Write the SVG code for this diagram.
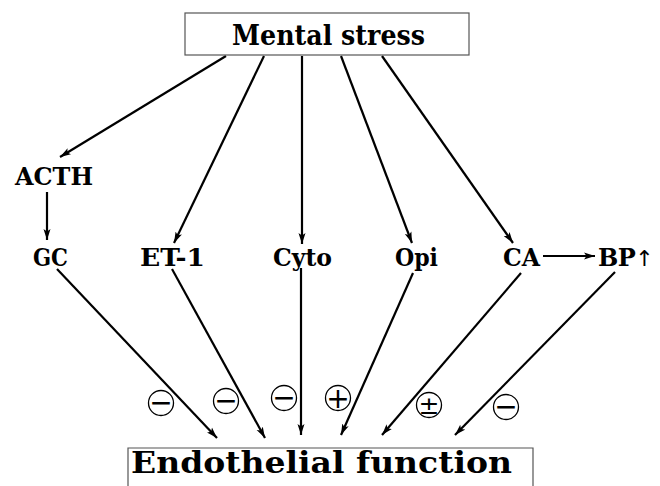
<svg xmlns="http://www.w3.org/2000/svg" width="660" height="486" viewBox="0 0 660 486">
<style>
.box{fill:#fff;stroke:#555;stroke-width:1.2}
.lbl{font-family:"DejaVu Serif","Liberation Serif",serif;font-weight:bold;fill:#000;text-anchor:middle}
.edge{stroke:#000;stroke-width:2.2;fill:none;marker-end:url(#ah)}
.sign circle{fill:none;stroke:#000;stroke-width:1.3}
.sign text{font-family:"DejaVu Sans",sans-serif;font-size:28px;text-anchor:middle;fill:#000}
</style>
<defs>
<marker id="ah" markerUnits="userSpaceOnUse" markerWidth="12" markerHeight="8" refX="11" refY="4" orient="auto">
<path d="M0,0.5 L11,4 L0,7.5 L2.5,4 z" fill="#000"/>
</marker>
</defs>
<rect width="660" height="486" fill="#fff"/>
<g id="connectors">
<line class="edge" x1="226" y1="56" x2="60" y2="157"/>
<line class="edge" x1="264" y1="56" x2="174" y2="243"/>
<line class="edge" x1="302" y1="56" x2="302" y2="244"/>
<line class="edge" x1="341" y1="56" x2="412" y2="243"/>
<line class="edge" x1="382" y1="56" x2="513" y2="243"/>
<line class="edge" x1="47" y1="192" x2="47" y2="240"/>
<line class="edge" x1="543" y1="256" x2="595" y2="256"/>
<line class="edge" x1="57" y1="269" x2="217" y2="438"/>
<line class="edge" x1="172" y1="269" x2="265" y2="438"/>
<line class="edge" x1="301" y1="268" x2="301" y2="435"/>
<line class="edge" x1="413" y1="273" x2="341" y2="435"/>
<line class="edge" x1="521" y1="273" x2="382" y2="435"/>
<line class="edge" x1="615" y1="272" x2="455" y2="435"/>
</g>
<g id="mental-stress">
<rect class="box" x="185" y="13" width="284" height="42"/>
<text class="lbl" x="328.5" y="45" font-size="27" textLength="193" lengthAdjust="spacingAndGlyphs">Mental stress</text>
</g>
<g id="endothelial-function">
<path class="box" d="M128,487 L128,448 L533,448 L533,487"/>
<text class="lbl" x="321.5" y="473" font-size="29" textLength="381" lengthAdjust="spacingAndGlyphs">Endothelial function</text>
</g>
<g id="acth"><text class="lbl" x="54" y="185" font-size="25" textLength="78" lengthAdjust="spacingAndGlyphs">ACTH</text></g>
<g id="gc"><text class="lbl" x="50.5" y="266" font-size="25" textLength="35" lengthAdjust="spacingAndGlyphs">GC</text></g>
<g id="et1"><text class="lbl" x="172.5" y="266" font-size="25" textLength="65" lengthAdjust="spacingAndGlyphs">ET-1</text></g>
<g id="cyto"><text class="lbl" x="302.5" y="266" font-size="25" textLength="59" lengthAdjust="spacingAndGlyphs">Cyto</text></g>
<g id="opi"><text class="lbl" x="416.5" y="266" font-size="25" textLength="43" lengthAdjust="spacingAndGlyphs">Opi</text></g>
<g id="ca"><text class="lbl" x="521.5" y="266" font-size="25" textLength="37" lengthAdjust="spacingAndGlyphs">CA</text></g>
<g id="bp"><text x="598" y="266" font-family="DejaVu Serif,serif" font-weight="bold" font-size="24" letter-spacing="-0.5" fill="#000">BP<tspan font-family="DejaVu Sans,sans-serif" font-weight="normal" font-size="22" letter-spacing="0" fill="#000">↑</tspan></text></g>
<g id="signs">
<g class="sign"><circle cx="161" cy="403" r="12.5"/><text x="161" y="412">−</text></g>
<g class="sign"><circle cx="226" cy="401" r="12.5"/><text x="226" y="410">−</text></g>
<g class="sign"><circle cx="284" cy="398" r="12.5"/><text x="284" y="407">−</text></g>
<g class="sign"><circle cx="338" cy="398" r="12.5"/><text x="338" y="407.5">+</text></g>
<g class="sign"><circle cx="429" cy="405" r="12.5"/><text x="429" y="413.5" style="font-size:25px">±</text></g>
<g class="sign"><circle cx="506" cy="407" r="12.5"/><text x="506" y="416">−</text></g>
</g>
</svg>
